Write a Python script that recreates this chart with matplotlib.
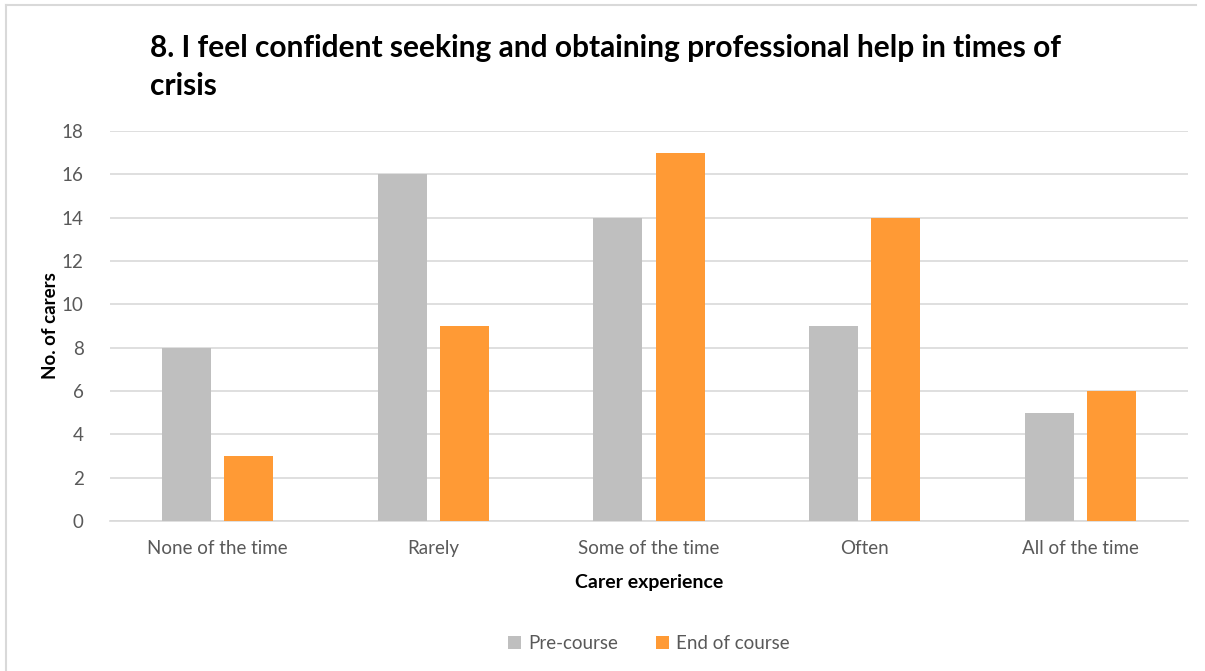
import numpy as np
import matplotlib.pyplot as plt
from matplotlib.lines import Line2D

plt.rcParams['font.family'] = ['Lato', 'DejaVu Sans']

categories = ['None of the time', 'Rarely', 'Some of the time', 'Often', 'All of the time']
pre_course = [8, 16, 14, 9, 5]
end_of_course = [3, 9, 17, 14, 6]
series_names = ['Pre-course', 'End of course']
yticks = [0, 2, 4, 6, 8, 10, 12, 14, 16, 18]

grey = '#BFBFBF'
orange = '#FF9A35'
text_grey = '#595959'

fig = plt.figure(figsize=(12.05, 6.71), dpi=100)
ax = fig.add_axes([110 / 1205, 150 / 671, (1188 - 110) / 1205, (521 - 131) / 671])

x = np.arange(len(categories))
w = 0.227
off = 0.144
ax.bar(x - off, pre_course, w, color=grey, label=series_names[0], zorder=3)
ax.bar(x + off, end_of_course, w, color=orange, label=series_names[1], zorder=3)

ax.set_xlim(-0.5, len(categories) - 0.5)
ax.set_ylim(0, 18)
ax.set_yticks(yticks)
ax.set_xticks(x)
ax.set_xticklabels(categories)
ax.grid(axis='y', color='#D9D9D9', linewidth=1.2, zorder=0)
for s in ['top', 'right', 'left']:
    ax.spines[s].set_visible(False)
ax.spines['bottom'].set_color('#D9D9D9')
ax.spines['bottom'].set_linewidth(1.2)
ax.tick_params(axis='both', length=0, labelsize=13.5, colors=text_grey)
ax.tick_params(axis='y', pad=19)
ax.tick_params(axis='x', pad=14)

ax.set_xlabel('Carer experience', fontsize=14, fontweight='bold', labelpad=12)
ax.set_ylabel('No. of carers', fontsize=13.5, fontweight='bold', labelpad=2)

fig.text(150 / 1205, 1 - 34 / 671,
         '8. I feel confident seeking and obtaining professional help in times of\ncrisis',
         fontsize=21.5, fontweight='bold', va='top', ha='left', linespacing=1.45)

ax.legend(loc='upper center', bbox_to_anchor=(0.5, -0.25), ncol=2, frameon=False,
          fontsize=13.5, labelcolor=text_grey, handlelength=0.7, handleheight=0.7,
          columnspacing=2.0, handletextpad=0.4)

# chart area border (top and left edges)
fig.add_artist(Line2D([6 / 1205, 1196 / 1205], [1 - 5 / 671, 1 - 5 / 671],
                      transform=fig.transFigure, color='#D9D9D9', linewidth=1.5))
fig.add_artist(Line2D([6 / 1205, 6 / 1205], [0, 1 - 5 / 671],
                      transform=fig.transFigure, color='#D9D9D9', linewidth=1.5))

fig.savefig('out.png', dpi=100)
